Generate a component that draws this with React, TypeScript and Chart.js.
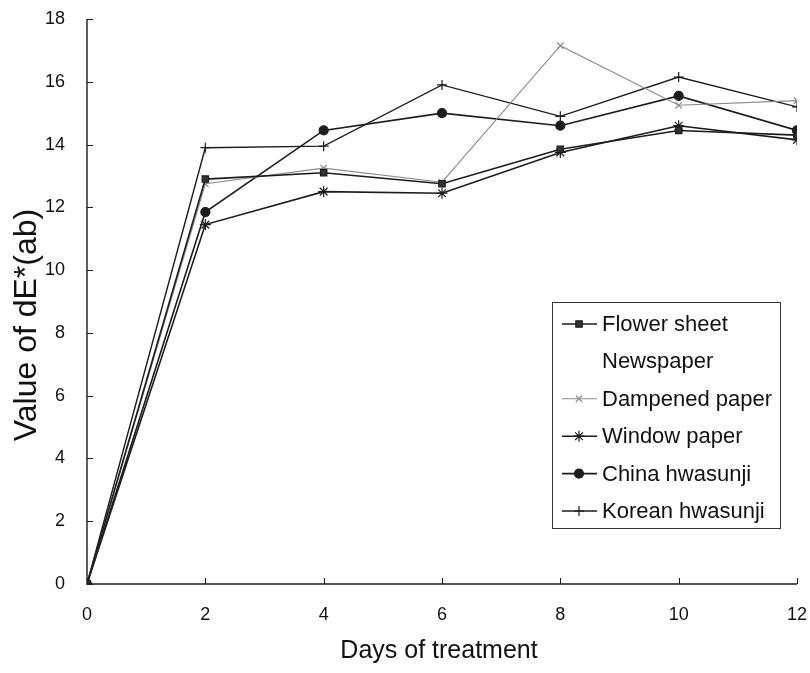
import React, { useEffect, useRef } from "react";
import { Chart, registerables } from "chart.js";
import { drawPoint } from "chart.js/helpers";

Chart.register(...registerables);

// Days on the x axis
const days = [0, 2, 4, 6, 8, 10, 12];

// dE*(ab) per paper type
const flowerSheet = [0, 12.9, 13.1, 12.75, 13.85, 14.45, 14.3];
const newspaper: (number | null)[] = [];
const dampenedPaper = [0, 12.75, 13.25, 12.8, 17.15, 15.25, 15.4];
const windowPaper = [0, 11.45, 12.5, 12.45, 13.75, 14.6, 14.15];
const chinaHwasunji = [0, 11.85, 14.45, 15.0, 14.6, 15.55, 14.45];
const koreanHwasunji = [0, 13.9, 13.95, 15.9, 14.9, 16.15, 15.2];

const seriesLabels = [
  "Flower sheet",
  "Newspaper",
  "Dampened paper",
  "Window paper",
  "China hwasunji",
  "Korean hwasunji",
];

const xTitle = "Days of treatment";
const yTitle = "Value of dE*(ab)";

const FONT = "'Liberation Sans', Arial, Helvetica, sans-serif";
const INK = "#1c1c1c";

type Style = {
  color: string;
  width: number;
  point: string | false;
  radius: number;
  fill: string;
};

const styles: Style[] = [
  { color: INK, width: 1.6, point: "rect", radius: 4.5, fill: "#333" },
  { color: "rgba(0,0,0,0)", width: 0, point: false, radius: 0, fill: "rgba(0,0,0,0)" },
  { color: "#8a8a8a", width: 1.1, point: "crossRot", radius: 4.5, fill: "#8a8a8a" },
  { color: INK, width: 1.6, point: "star", radius: 5.5, fill: INK },
  { color: INK, width: 1.6, point: "circle", radius: 4.5, fill: INK },
  { color: INK, width: 1.4, point: "cross", radius: 5, fill: INK },
];

const seriesValues = [
  flowerSheet,
  newspaper,
  dampenedPaper,
  windowPaper,
  chinaHwasunji,
  koreanHwasunji,
];

// Axis lines with inward tick marks and both axis titles
const axesPlugin = {
  id: "paperAxes",
  afterDraw(chart: any) {
    const { ctx, chartArea, scales } = chart;
    const x = scales.x;
    const y = scales.y;
    ctx.save();
    ctx.strokeStyle = INK;
    ctx.lineWidth = 1.4;
    ctx.beginPath();
    ctx.moveTo(chartArea.left, chartArea.top);
    ctx.lineTo(chartArea.left, chartArea.bottom);
    ctx.lineTo(chartArea.right, chartArea.bottom);
    ctx.stroke();
    ctx.lineWidth = 1;
    ctx.beginPath();
    for (const t of y.ticks) {
      const py = Math.round(y.getPixelForValue(t.value)) + 0.5;
      ctx.moveTo(chartArea.left, py);
      ctx.lineTo(chartArea.left + 6, py);
    }
    for (const t of x.ticks) {
      const px = Math.round(x.getPixelForValue(t.value)) + 0.5;
      ctx.moveTo(px, chartArea.bottom);
      ctx.lineTo(px, chartArea.bottom - 6);
    }
    ctx.stroke();

    ctx.fillStyle = "#111";
    ctx.textAlign = "center";
    ctx.textBaseline = "middle";
    ctx.font = `25px ${FONT}`;
    ctx.fillText(xTitle, (chartArea.left + chartArea.right) / 2 - 3, 651);
    ctx.translate(27, 325);
    ctx.rotate(-Math.PI / 2);
    ctx.font = `32px ${FONT}`;
    ctx.fillText(yTitle, 0, 0);
    ctx.restore();
  },
};

// Boxed legend inside the plot, each entry with a line sample and its marker
const legendPlugin = {
  id: "paperLegend",
  afterDraw(chart: any) {
    const { ctx } = chart;
    const bx = 552.5;
    const by = 302.5;
    const bw = 228;
    const bh = 226;
    ctx.save();
    ctx.fillStyle = "#fff";
    ctx.fillRect(bx, by, bw, bh);
    ctx.strokeStyle = "#333";
    ctx.lineWidth = 1;
    ctx.strokeRect(bx, by, bw, bh);
    ctx.font = `22px ${FONT}`;
    ctx.textBaseline = "middle";
    ctx.textAlign = "left";
    seriesLabels.forEach((label, i) => {
      const s = styles[i];
      const cy = 324 + i * 37.4;
      if (s.point) {
        ctx.strokeStyle = s.color;
        ctx.lineWidth = s.width;
        ctx.beginPath();
        ctx.moveTo(562, cy);
        ctx.lineTo(597, cy);
        ctx.stroke();
        ctx.fillStyle = s.fill;
        ctx.strokeStyle = s.color;
        ctx.lineWidth = 1.2;
        drawPoint(ctx, { pointStyle: s.point, radius: s.radius, rotation: 0, borderWidth: 1.2 } as any, 579, cy);
      }
      ctx.fillStyle = "#111";
      ctx.fillText(label, 602, cy + 1);
    });
    ctx.restore();
  },
};

export default function App() {
  const canvasRef = useRef<HTMLCanvasElement | null>(null);

  useEffect(() => {
    if (!canvasRef.current) return;
    const datasets = seriesValues.map((vals, i) => {
      const s = styles[i];
      return {
        label: seriesLabels[i],
        data: vals.map((v, k) => ({ x: days[k], y: v })),
        borderColor: s.color,
        borderWidth: s.width,
        backgroundColor: s.fill,
        pointStyle: s.point || "circle",
        pointRadius: s.point ? s.radius : 0,
        pointBorderColor: s.color,
        pointBackgroundColor: s.fill,
        pointBorderWidth: 1.2,
        tension: 0,
        fill: false,
      };
    });

    const chart = new Chart(canvasRef.current, {
      type: "line",
      data: { datasets },
      options: {
        animation: false,
        responsive: false,
        maintainAspectRatio: false,
        layout: { padding: { left: 0, right: 13, top: 19, bottom: 0 } },
        plugins: {
          legend: { display: false },
          tooltip: { enabled: false },
        },
        scales: {
          x: {
            type: "linear",
            min: 0,
            max: 12,
            grid: { display: false },
            border: { display: false },
            ticks: {
              stepSize: 2,
              padding: 12,
              color: "#111",
              font: { family: FONT, size: 18 },
            },
            afterFit(scale: any) {
              scale.height = 89;
              scale.paddingLeft = 0;
              scale.paddingRight = 0;
            },
          },
          y: {
            min: 0,
            max: 18,
            grid: { display: false },
            border: { display: false },
            ticks: {
              stepSize: 2,
              padding: 14,
              color: "#111",
              font: { family: FONT, size: 18 },
            },
            afterFit(scale: any) {
              scale.width = 87;
              scale.paddingTop = 0;
              scale.paddingBottom = 0;
            },
          },
        },
      },
      plugins: [axesPlugin, legendPlugin],
    } as any);

    return () => chart.destroy();
  }, []);

  return (
    <div style={{ position: "fixed", left: 0, top: 0, width: 810, height: 673, background: "#fff" }}>
      <canvas ref={canvasRef} width={810} height={673} style={{ width: 810, height: 673 }} />
    </div>
  );
}
